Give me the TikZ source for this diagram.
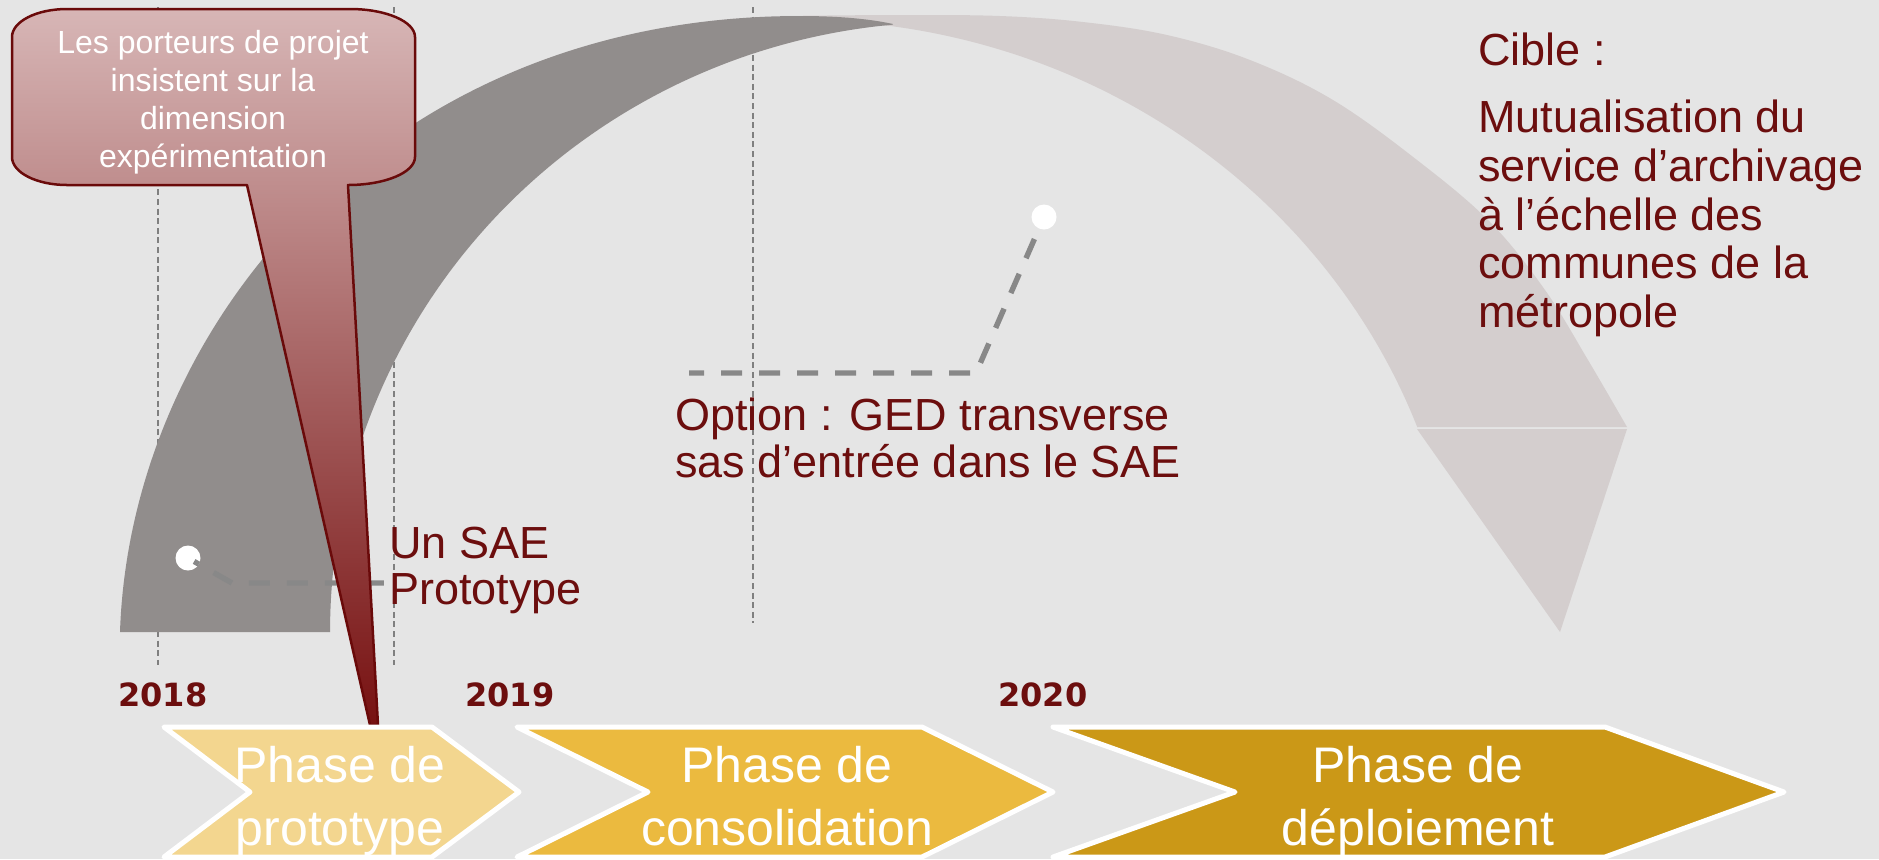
\documentclass[tikz,border=0pt]{standalone}
\usepackage{fontspec}
\setmainfont{Liberation Sans}
\newfontfamily\yearfont{DejaVu Sans}
\definecolor{bgc}{HTML}{E5E5E5}
\definecolor{darkarc}{HTML}{918D8C}
\definecolor{lightarc}{HTML}{D4CECE}
\definecolor{dred}{HTML}{6C0E0E}
\definecolor{vgray}{HTML}{7F7F7F}
\definecolor{cgray}{HTML}{888888}
\definecolor{cotop}{HTML}{D7B6B6}
\definecolor{cobot}{HTML}{771111}
\definecolor{coline}{HTML}{6A0A0A}
\definecolor{chA}{HTML}{F3D68F}
\definecolor{chB}{HTML}{EBBA3F}
\definecolor{chC}{HTML}{CB9817}
\begin{document}
\begin{tikzpicture}[x=0.5pt,y=-0.5pt,
  vline/.style={draw=vgray, line width=1.35pt, dash pattern=on 3pt off 1.8pt},
  conn/.style={draw=cgray, line width=2.7pt, dash pattern=on 10.5pt off 8.5pt},
  dotnode/.style={circle, fill=white, inner sep=0pt, minimum size=12.5pt},
  lbl/.style={font=\fontsize{22.5}{27}\selectfont, text=dred, anchor=base west, inner sep=0pt},
  cotxt/.style={font=\fontsize{16}{19}\selectfont, text=white, anchor=base, inner sep=0pt},
  yr/.style={font=\yearfont\bfseries\fontsize{16}{19}\selectfont, text=dred, anchor=base west, inner sep=0pt},
  phtxt/.style={font=\fontsize{25}{30}\selectfont, text=white, anchor=base, inner sep=0pt},
  chev/.style={draw=white, line width=2.5pt, line join=round}]
\useasboundingbox (0,0) rectangle (1879,859);
\clip (0,0) rectangle (1879,859);
\fill[bgc] (0,0) rectangle (1879,859);

% vertical dashed guide lines
\coordinate (v1t) at (158,7);   \coordinate (v1b) at (158,665);
\coordinate (v2t) at (394,7);   \coordinate (v2b) at (394,665);
\coordinate (v3t) at (753,7);   \coordinate (v3b) at (753,623);
\draw[vline] (v1t) -- (v1b);
\draw[vline] (v2t) -- (v2b);
\draw[vline] (v3t) -- (v3b);

% light arc
\fill[lightarc] plot[smooth, tension=0.6] coordinates {(780,16) (900,15) (1000,16) (1083,22) (1167,35) (1250,60) (1333,100) (1417,160) (1490,222) (1545,290) (1588,360) (1627,427)}
  -- (1417,427)
  -- plot[domain=20.7:81.9, samples=40, smooth] ({800+660*cos(\x)},{650-630*sin(\x)})
  -- cycle;
\fill[lightarc] (1417,429) -- (1627,429) -- (1560,632) -- cycle;

% dark arc
\fill[darkarc] (120,632) .. controls (130,330) and (380,16) .. (800,16)
  .. controls (840,16) and (870,19) .. (893,24)
  -- plot[domain=95.3:180, samples=50, smooth] ({950+620*cos(\x)},{632-610*sin(\x)})
  -- cycle;

% dots and dashed connectors
\node[dotnode] (dot1) at (188,558) {};
\coordinate (c1) at (232,583);
\coordinate (e1) at (384,583);
\draw[conn, shorten <=3.5pt, dash phase=7.75pt] (dot1.center) -- (c1) -- (e1);

\node[dotnode] (dot2) at (1044,217) {};
\coordinate (c2) at (976,373);
\coordinate (e2) at (689,373);
\draw[conn, shorten <=12pt] (dot2.center) -- (c2) -- (e2);

% callout
\shadedraw[top color=cotop, bottom color=cobot, draw=coline, line width=1.25pt, line join=round]
  (67,9) -- (350,9) .. controls (386,9) and (415,21.5) .. (415,37)
  -- (415,157) .. controls (415,172.5) and (385,185) .. (348,185)
  -- (378,725) -- (370,725) -- (247,185) -- (67,185)
  .. controls (36.6,185) and (12,172.5) .. (12,157)
  -- (12,37) .. controls (12,21.5) and (36.6,9) .. (67,9) -- cycle;
\node[cotxt] (co1) at (213,53) {Les porteurs de projet};
\node[cotxt] (co2) at (213,91) {insistent sur la};
\node[cotxt] (co3) at (213,129) {dimension};
\node[cotxt] (co4) at (213,167) {expérimentation};

% labels
\node[lbl] (sae1) at (389,558) {Un SAE};
\node[lbl] (sae2) at (389,604) {Prototype};
\node[lbl] (opt1) at (675,430) {Option : GED transverse};
\node[lbl] (opt2) at (675,477) {sas d’entrée dans le SAE};
\node[lbl] (cib0) at (1478,65) {Cible :};
\node[lbl] (cib1) at (1478,132) {Mutualisation du};
\node[lbl] (cib2) at (1478,181) {service d’archivage};
\node[lbl] (cib3) at (1478,230) {à l’échelle des};
\node[lbl] (cib4) at (1478,278) {communes de la};
\node[lbl] (cib5) at (1478,327) {métropole};

% years
\node[yr] (y18) at (118,706) {2018};
\node[yr] (y19) at (465,706) {2019};
\node[yr] (y20) at (998,706) {2020};

% chevrons
\path[chev, fill=chA] (164,727) -- (432,727) -- (519,792) -- (432,857) -- (164,857) -- (250,792) -- cycle;
\path[chev, fill=chB] (517,727) -- (922,727) -- (1053,792) -- (922,857) -- (517,857) -- (648,792) -- cycle;
\path[chev, fill=chC] (1053,727) -- (1605,727) -- (1784,792) -- (1605,857) -- (1053,857) -- (1235,792) -- cycle;
\node[phtxt] (p1a) at (340,782) {Phase de};
\node[phtxt] (p1b) at (340,845) {prototype};
\node[phtxt] (p2a) at (787,782) {Phase de};
\node[phtxt] (p2b) at (787,845) {consolidation};
\node[phtxt] (p3a) at (1418,782) {Phase de};
\node[phtxt] (p3b) at (1418,845) {déploiement};
\end{tikzpicture}
\end{document}
